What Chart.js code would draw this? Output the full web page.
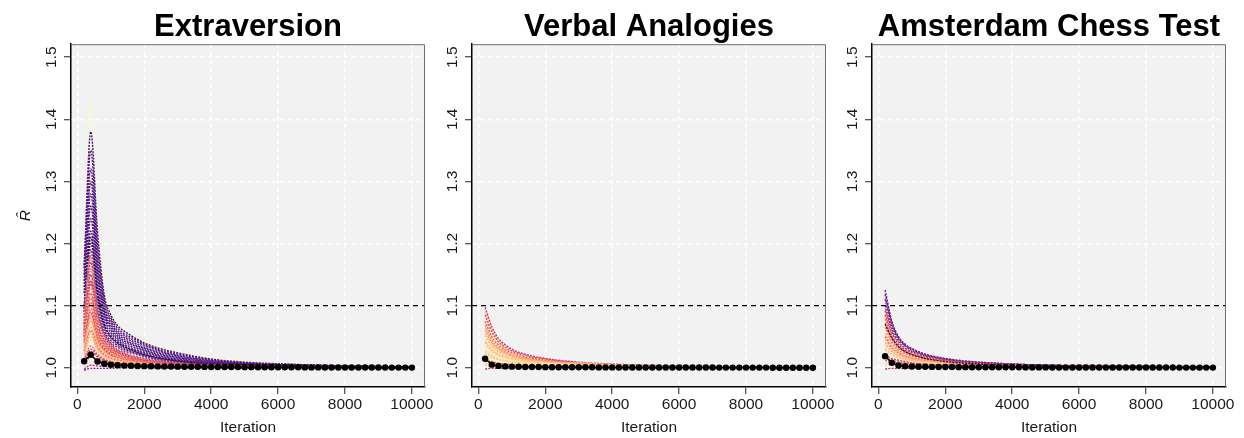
<!DOCTYPE html>
<html>
<head>
<meta charset="utf-8">
<script src="https://cdn.jsdelivr.net/npm/chart.js@4.4.1/dist/chart.umd.min.js"></script>
<style>
  html, body { margin: 0; padding: 0; background: #fff; overflow: hidden; }
  #wrap { position: relative; width: 1244px; height: 438px; overflow: hidden; }
  #wrap canvas { position: absolute; top: 0; }
</style>
</head>
<body>
<div id="wrap">
  <canvas id="p1" width="496" height="438" style="left:0px"></canvas>
  <canvas id="p2" width="496" height="438" style="left:401px"></canvas>
  <canvas id="p3" width="496" height="438" style="left:801px"></canvas>
</div>
<script>
// ---- data ----
const panelTitles = ['Extraversion', 'Verbal Analogies', 'Amsterdam Chess Test'];
const xTicks = [0, 2000, 4000, 6000, 8000, 10000];
const yTicks = [1.0, 1.1, 1.2, 1.3, 1.4, 1.5];
const cutoff = 1.1;

// iterations at which the per-parameter R-hat traces are sampled
const traceIters = [200, 400, 600, 800, 1000, 1200, 1400, 1600, 2000, 2400, 3000, 4000, 5000, 6000, 8000, 10000];
// iterations of the median trace (black dots)
const medianIters = [200, 400, 600, 800, 1000, 1200, 1400, 1600, 1800, 2000,
  2200, 2400, 2600, 2800, 3000, 3200, 3400, 3600, 3800, 4000,
  4200, 4400, 4600, 4800, 5000, 5200, 5400, 5600, 5800, 6000,
  6200, 6400, 6600, 6800, 7000, 7200, 7400, 7600, 7800, 8000,
  8200, 8400, 8600, 8800, 9000, 9200, 9400, 9600, 9800, 10000];

// Extraversion traces, bottom-most drawn first
const extraTraces = [
  [1.170, 1.430, 1.240, 1.125, 1.090, 1.072, 1.062, 1.055, 1.043, 1.035, 1.026, 1.017, 1.011, 1.007, 1.003, 1.001],
  [1.165, 1.380, 1.220, 1.118, 1.085, 1.068, 1.059, 1.052, 1.040, 1.032, 1.024, 1.014, 1.009, 1.0065, 1.003, 1.001],
  [1.160, 1.350, 1.200, 1.110, 1.080, 1.064, 1.055, 1.049, 1.038, 1.030, 1.022, 1.013, 1.008, 1.006, 1.003, 1.001],
  [1.150, 1.320, 1.185, 1.104, 1.076, 1.060, 1.052, 1.046, 1.036, 1.028, 1.020, 1.012, 1.008, 1.005, 1.002, 1.001],
  [1.140, 1.300, 1.170, 1.098, 1.072, 1.057, 1.049, 1.043, 1.033, 1.026, 1.019, 1.011, 1.007, 1.005, 1.002, 1.001],
  [1.130, 1.280, 1.160, 1.092, 1.068, 1.054, 1.046, 1.040, 1.031, 1.024, 1.017, 1.010, 1.006, 1.004, 1.002, 1.001],
  [1.120, 1.260, 1.150, 1.088, 1.064, 1.051, 1.043, 1.038, 1.029, 1.022, 1.016, 1.009, 1.006, 1.004, 1.002, 1.000],
  [1.100, 1.240, 1.140, 1.082, 1.060, 1.048, 1.040, 1.035, 1.027, 1.020, 1.014, 1.008, 1.005, 1.004, 1.002, 1.000],
  [1.090, 1.220, 1.130, 1.076, 1.056, 1.045, 1.037, 1.032, 1.025, 1.019, 1.013, 1.008, 1.005, 1.003, 1.001, 1.000],
  [1.080, 1.200, 1.120, 1.070, 1.052, 1.042, 1.035, 1.030, 1.023, 1.017, 1.012, 1.007, 1.004, 1.003, 1.001, 1.000],
  [1.070, 1.180, 1.110, 1.065, 1.048, 1.039, 1.032, 1.028, 1.021, 1.016, 1.011, 1.006, 1.004, 1.003, 1.001, 1.000],
  [1.060, 1.160, 1.100, 1.060, 1.044, 1.036, 1.030, 1.026, 1.019, 1.014, 1.010, 1.006, 1.004, 1.002, 1.001, 1.000],
  [1.050, 1.140, 1.090, 1.055, 1.040, 1.033, 1.027, 1.024, 1.018, 1.013, 1.009, 1.005, 1.003, 1.002, 1.001, 1.000],
  [1.095, 1.210, 1.120, 1.070, 1.050, 1.040, 1.034, 1.029, 1.021, 1.016, 1.011, 1.006, 1.004, 1.002, 1.001, 1.000],
  [1.090, 1.190, 1.090, 1.055, 1.038, 1.029, 1.024, 1.020, 1.015, 1.011, 1.008, 1.005, 1.003, 1.002, 1.001, 1.000],
  [1.085, 1.180, 1.085, 1.052, 1.036, 1.028, 1.023, 1.019, 1.014, 1.010, 1.007, 1.004, 1.003, 1.002, 1.001, 1.000],
  [1.080, 1.170, 1.080, 1.050, 1.035, 1.027, 1.022, 1.018, 1.013, 1.010, 1.007, 1.004, 1.003, 1.002, 1.001, 1.000],
  [1.075, 1.160, 1.076, 1.047, 1.033, 1.026, 1.021, 1.018, 1.013, 1.009, 1.006, 1.004, 1.002, 1.001, 1.001, 1.000],
  [1.070, 1.150, 1.072, 1.045, 1.032, 1.025, 1.020, 1.017, 1.012, 1.009, 1.006, 1.004, 1.002, 1.001, 1.001, 1.000],
  [1.065, 1.140, 1.069, 1.043, 1.030, 1.024, 1.019, 1.016, 1.011, 1.008, 1.006, 1.003, 1.002, 1.001, 1.000, 1.000],
  [1.060, 1.135, 1.066, 1.041, 1.029, 1.023, 1.018, 1.015, 1.011, 1.008, 1.006, 1.003, 1.002, 1.001, 1.000, 1.000],
  [1.058, 1.128, 1.063, 1.040, 1.028, 1.022, 1.018, 1.015, 1.010, 1.008, 1.005, 1.003, 1.002, 1.001, 1.000, 1.000],
  [1.055, 1.120, 1.060, 1.038, 1.027, 1.021, 1.017, 1.014, 1.010, 1.008, 1.005, 1.003, 1.002, 1.001, 1.000, 1.000],
  [1.052, 1.112, 1.058, 1.036, 1.026, 1.020, 1.016, 1.013, 1.009, 1.007, 1.005, 1.003, 1.002, 1.001, 1.000, 1.000],
  [1.050, 1.105, 1.055, 1.034, 1.025, 1.019, 1.015, 1.013, 1.009, 1.007, 1.005, 1.003, 1.002, 1.001, 1.000, 1.000],
  [1.048, 1.100, 1.052, 1.033, 1.023, 1.018, 1.015, 1.012, 1.008, 1.006, 1.004, 1.002, 1.001, 1.001, 1.000, 1.000],
  [1.045, 1.095, 1.050, 1.031, 1.022, 1.017, 1.014, 1.012, 1.008, 1.006, 1.004, 1.002, 1.001, 1.001, 1.000, 1.000],
  [1.042, 1.090, 1.047, 1.030, 1.021, 1.016, 1.013, 1.011, 1.008, 1.006, 1.004, 1.002, 1.001, 1.001, 1.000, 1.000],
  [1.040, 1.085, 1.045, 1.028, 1.020, 1.016, 1.013, 1.011, 1.008, 1.006, 1.004, 1.002, 1.001, 1.001, 1.000, 1.000],
  [1.038, 1.080, 1.043, 1.027, 1.019, 1.015, 1.012, 1.010, 1.007, 1.005, 1.003, 1.002, 1.001, 1.000, 1.000, 1.000],
  [1.035, 1.075, 1.040, 1.025, 1.018, 1.014, 1.012, 1.010, 1.007, 1.005, 1.003, 1.002, 1.001, 1.000, 1.000, 1.000],
  [1.032, 1.070, 1.038, 1.024, 1.017, 1.014, 1.011, 1.009, 1.006, 1.005, 1.003, 1.002, 1.001, 1.000, 1.000, 1.000],
  [1.030, 1.065, 1.036, 1.022, 1.016, 1.013, 1.010, 1.009, 1.006, 1.005, 1.003, 1.002, 1.001, 1.000, 1.000, 1.000],
  [1.027, 1.060, 1.033, 1.021, 1.015, 1.012, 1.010, 1.008, 1.006, 1.004, 1.003, 1.002, 1.001, 1.000, 1.000, 1.000],
  [1.025, 1.055, 1.031, 1.019, 1.014, 1.011, 1.009, 1.008, 1.006, 1.004, 1.003, 1.002, 1.001, 1.000, 1.000, 1.000],
  [1.022, 1.050, 1.029, 1.018, 1.013, 1.010, 1.009, 1.007, 1.005, 1.004, 1.002, 1.001, 1.001, 1.000, 1.000, 1.000],
  [1.020, 1.045, 1.027, 1.017, 1.012, 1.010, 1.008, 1.007, 1.005, 1.004, 1.002, 1.001, 1.001, 1.000, 1.000, 1.000],
  [1.015, 1.035, 1.022, 1.014, 1.010, 1.008, 1.007, 1.006, 1.004, 1.003, 1.002, 1.001, 1.001, 1.000, 1.000, 1.000],
  [1.012, 1.030, 1.019, 1.013, 1.009, 1.007, 1.006, 1.005, 1.004, 1.003, 1.002, 1.001, 1.000, 1.000, 1.000, 1.000],
  [1.010, 1.026, 1.017, 1.011, 1.008, 1.007, 1.006, 1.005, 1.004, 1.003, 1.002, 1.001, 1.000, 1.000, 1.000, 1.000],
  [1.005, 1.018, 1.012, 1.008, 1.006, 1.005, 1.004, 1.004, 1.003, 1.002, 1.001, 1.001, 1.000, 1.000, 1.000, 1.000],
  [1.002, 1.010, 1.007, 1.005, 1.004, 1.003, 1.003, 1.002, 1.002, 1.001, 1.001, 1.000, 1.000, 1.000, 1.000, 1.000],
  [0.998, 1.004, 1.003, 1.002, 1.002, 1.001, 1.001, 1.001, 1.001, 1.000, 1.000, 1.000, 1.000, 1.000, 1.000, 1.000],
  [0.996, 0.999, 0.999, 0.999, 0.999, 1.000, 1.000, 1.000, 1.000, 1.000, 1.000, 1.000, 1.000, 1.000, 1.000, 1.000],
];
const extraColors = [
  '#fcfdbf',
  '#4a1079', '#51127c', '#5a1785', '#4f127b', '#5c1a87', '#3b0f70',
  '#611b88', '#51127c', '#6a1d87', '#721f81', '#5a1785', '#7b2382',
  '#1c1044',
  '#9c2e7f', '#fc8961', '#b73779', '#fea973', '#c83e73', '#e55064',
  '#d6456c', '#feb77e', '#e55064', '#f7705c', '#ef5a5e', '#fecf92',
  '#f7705c', '#c83e73', '#fb8461', '#fd9668', '#fd9668', '#fde0a1',
  '#fea973', '#ef5a5e', '#febb81', '#febb81', '#fecf92', '#f1605d',
  '#d6456c', '#de4968', '#c03a76', '#fde0a1', '#b73779', '#8c2981',
];
const extraMedian = [1.0106, 1.0210, 1.0100, 1.0064, 1.0048, 1.0040, 1.0035, 1.0031, 1.0028, 1.0026,
  1.0024, 1.0022, 1.0020, 1.0019, 1.0018, 1.0017, 1.0016, 1.0015, 1.0014, 1.0013,
  1.0012, 1.0012, 1.0011, 1.0011, 1.0010, 1.0010, 1.0009, 1.0009, 1.0008, 1.0008,
  1.0007, 1.0007, 1.0007, 1.0006, 1.0006, 1.0006, 1.0005, 1.0005, 1.0005, 1.0004,
  1.0004, 1.0004, 1.0003, 1.0003, 1.0003, 1.0003, 1.0002, 1.0002, 1.0002, 1.0002];

// Verbal Analogies traces
const verbalTraces = [
  [1.090, 1.062, 1.044, 1.035, 1.028, 1.024, 1.021, 1.018, 1.014, 1.011, 1.008, 1.005, 1.003, 1.002, 1.001, 1.000],
  [1.080, 1.054, 1.040, 1.031, 1.025, 1.021, 1.018, 1.016, 1.013, 1.010, 1.008, 1.005, 1.003, 1.002, 1.001, 1.000],
  [1.072, 1.048, 1.035, 1.028, 1.023, 1.019, 1.016, 1.014, 1.011, 1.009, 1.007, 1.004, 1.003, 1.002, 1.001, 1.000],
  [1.064, 1.042, 1.031, 1.025, 1.020, 1.017, 1.015, 1.013, 1.010, 1.008, 1.006, 1.004, 1.003, 1.002, 1.001, 1.000],
  [1.056, 1.037, 1.028, 1.022, 1.018, 1.015, 1.013, 1.011, 1.009, 1.007, 1.006, 1.004, 1.002, 1.001, 1.001, 1.000],
  [1.048, 1.032, 1.024, 1.019, 1.016, 1.013, 1.011, 1.010, 1.008, 1.007, 1.005, 1.003, 1.002, 1.001, 1.000, 1.000],
  [1.041, 1.028, 1.021, 1.017, 1.014, 1.012, 1.010, 1.009, 1.007, 1.006, 1.004, 1.003, 1.002, 1.001, 1.000, 1.000],
  [1.034, 1.023, 1.018, 1.014, 1.012, 1.010, 1.009, 1.008, 1.006, 1.005, 1.004, 1.003, 1.002, 1.001, 1.000, 1.000],
  [1.027, 1.019, 1.015, 1.012, 1.010, 1.009, 1.008, 1.007, 1.005, 1.004, 1.003, 1.002, 1.001, 1.001, 1.000, 1.000],
  [1.021, 1.015, 1.012, 1.010, 1.008, 1.007, 1.006, 1.005, 1.004, 1.004, 1.003, 1.002, 1.001, 1.000, 1.000, 1.000],
  [1.015, 1.011, 1.009, 1.007, 1.006, 1.005, 1.005, 1.004, 1.003, 1.003, 1.002, 1.001, 1.001, 1.000, 1.000, 1.000],
  [1.009, 1.007, 1.006, 1.005, 1.004, 1.003, 1.003, 1.003, 1.002, 1.002, 1.001, 1.001, 1.000, 1.000, 1.000, 1.000],
  [1.003, 1.002, 1.002, 1.002, 1.001, 1.001, 1.001, 1.001, 1.001, 1.001, 1.000, 1.000, 1.000, 1.000, 1.000, 1.000],
  [1.097, 1.066, 1.047, 1.037, 1.030, 1.025, 1.022, 1.019, 1.015, 1.012, 1.009, 1.006, 1.004, 1.003, 1.001, 1.001],
  [1.085, 1.058, 1.042, 1.033, 1.027, 1.023, 1.020, 1.017, 1.014, 1.011, 1.008, 1.005, 1.003, 1.002, 1.001, 1.000],
  [1.075, 1.050, 1.037, 1.029, 1.024, 1.020, 1.017, 1.015, 1.012, 1.010, 1.007, 1.005, 1.003, 1.002, 1.001, 1.000],
  [1.068, 1.045, 1.033, 1.026, 1.021, 1.018, 1.015, 1.013, 1.011, 1.009, 1.007, 1.004, 1.003, 1.002, 1.001, 1.000],
  [1.060, 1.040, 1.030, 1.024, 1.019, 1.016, 1.014, 1.012, 1.010, 1.008, 1.006, 1.004, 1.003, 1.002, 1.001, 1.000],
  [1.052, 1.035, 1.026, 1.021, 1.017, 1.014, 1.012, 1.011, 1.009, 1.007, 1.006, 1.004, 1.003, 1.002, 1.001, 1.000],
  [1.045, 1.030, 1.023, 1.018, 1.015, 1.012, 1.011, 1.010, 1.008, 1.007, 1.008, 1.005, 1.003, 1.002, 1.001, 1.000],
  [1.038, 1.026, 1.020, 1.016, 1.013, 1.011, 1.009, 1.008, 1.007, 1.006, 1.004, 1.003, 1.002, 1.001, 1.001, 1.000],
  [1.030, 1.021, 1.016, 1.013, 1.011, 1.009, 1.008, 1.007, 1.006, 1.005, 1.004, 1.003, 1.002, 1.001, 1.000, 1.000],
  [1.024, 1.017, 1.013, 1.011, 1.009, 1.008, 1.007, 1.006, 1.005, 1.004, 1.003, 1.002, 1.001, 1.001, 1.000, 1.000],
  [1.018, 1.013, 1.010, 1.008, 1.007, 1.006, 1.005, 1.005, 1.004, 1.003, 1.002, 1.002, 1.001, 1.000, 1.000, 1.000],
  [1.012, 1.009, 1.007, 1.006, 1.005, 1.004, 1.004, 1.003, 1.003, 1.002, 1.002, 1.001, 1.001, 1.000, 1.000, 1.000],
  [1.006, 1.005, 1.004, 1.003, 1.003, 1.002, 1.002, 1.002, 1.001, 1.001, 1.001, 1.000, 1.000, 1.000, 1.000, 1.000],
  [0.998, 0.999, 0.999, 0.999, 1.000, 1.000, 1.000, 1.000, 1.000, 1.000, 1.000, 1.000, 1.000, 1.000, 1.000, 1.000],
];
const verbalColors = [
  '#fec287', '#fde0a1', '#fcf0b0', '#feb77e', '#fecb8f', '#fcfdbf', '#fea16e',
  '#fde0a1', '#fec287', '#fcf0b0', '#feb77e', '#fde0a1', '#fecf92',
  '#c03a76', '#de4968', '#f1605d', '#fc8961', '#fea16e', '#feb77e', '#fecb8f',
  '#fde0a1', '#fcf0b0', '#fec287', '#fcfdbf', '#e55064', '#fec287', '#b73779',
];
const verbalMedian = [1.0145, 1.0050, 1.0030, 1.0022, 1.0018, 1.0015, 1.0013, 1.0012, 1.0011, 1.0010,
  1.0009, 1.0009, 1.0008, 1.0008, 1.0007, 1.0007, 1.0007, 1.0006, 1.0006, 1.0006,
  1.0005, 1.0005, 1.0005, 1.0005, 1.0004, 1.0004, 1.0004, 1.0004, 1.0004, 1.0003,
  1.0003, 1.0003, 1.0003, 1.0003, 1.0003, 1.0002, 1.0002, 1.0002, 1.0002, 1.0002,
  1.0002, 1.0002, 1.0002, 1.0001, 1.0001, 1.0001, 1.0001, 1.0001, 1.0001, 1.0001];

// Amsterdam Chess Test traces
const chessTraces = [
  [1.095, 1.060, 1.040, 1.030, 1.025, 1.021, 1.018, 1.016, 1.012, 1.010, 1.007, 1.005, 1.003, 1.002, 1.001, 1.000],
  [1.082, 1.050, 1.034, 1.026, 1.021, 1.018, 1.015, 1.013, 1.010, 1.008, 1.006, 1.004, 1.003, 1.002, 1.001, 1.000],
  [1.072, 1.044, 1.030, 1.024, 1.019, 1.016, 1.014, 1.012, 1.009, 1.007, 1.006, 1.004, 1.002, 1.001, 1.001, 1.000],
  [1.060, 1.038, 1.027, 1.021, 1.017, 1.014, 1.012, 1.011, 1.008, 1.007, 1.005, 1.003, 1.002, 1.001, 1.001, 1.000],
  [1.050, 1.032, 1.024, 1.018, 1.015, 1.013, 1.011, 1.010, 1.007, 1.006, 1.005, 1.003, 1.002, 1.001, 1.000, 1.000],
  [1.040, 1.027, 1.020, 1.016, 1.013, 1.011, 1.010, 1.009, 1.007, 1.005, 1.004, 1.003, 1.002, 1.001, 1.000, 1.000],
  [1.030, 1.022, 1.017, 1.013, 1.011, 1.010, 1.008, 1.007, 1.006, 1.005, 1.004, 1.002, 1.002, 1.001, 1.000, 1.000],
  [1.009, 1.007, 1.006, 1.005, 1.004, 1.004, 1.003, 1.003, 1.002, 1.002, 1.002, 1.001, 1.001, 1.001, 1.000, 1.000],
  [1.125, 1.075, 1.050, 1.038, 1.031, 1.026, 1.022, 1.019, 1.015, 1.012, 1.009, 1.006, 1.004, 1.003, 1.002, 1.001],
  [1.118, 1.072, 1.048, 1.036, 1.030, 1.025, 1.021, 1.018, 1.014, 1.011, 1.009, 1.006, 1.004, 1.003, 1.002, 1.001],
  [1.110, 1.068, 1.046, 1.035, 1.028, 1.024, 1.020, 1.018, 1.014, 1.011, 1.008, 1.006, 1.004, 1.003, 1.002, 1.001],
  [1.100, 1.062, 1.042, 1.032, 1.026, 1.022, 1.019, 1.016, 1.013, 1.010, 1.008, 1.005, 1.004, 1.003, 1.002, 1.001],
  [1.092, 1.057, 1.038, 1.029, 1.024, 1.020, 1.017, 1.015, 1.012, 1.009, 1.007, 1.005, 1.003, 1.002, 1.001, 1.000],
  [1.085, 1.052, 1.035, 1.027, 1.022, 1.018, 1.016, 1.014, 1.011, 1.009, 1.007, 1.004, 1.003, 1.002, 1.001, 1.000],
  [1.078, 1.047, 1.032, 1.025, 1.020, 1.017, 1.014, 1.013, 1.010, 1.008, 1.006, 1.004, 1.003, 1.002, 1.001, 1.000],
  [1.065, 1.040, 1.028, 1.022, 1.018, 1.015, 1.013, 1.011, 1.009, 1.007, 1.005, 1.004, 1.003, 1.002, 1.001, 1.000],
  [1.055, 1.035, 1.025, 1.019, 1.016, 1.013, 1.011, 1.010, 1.008, 1.006, 1.005, 1.003, 1.002, 1.001, 1.001, 1.000],
  [1.045, 1.030, 1.022, 1.017, 1.014, 1.012, 1.010, 1.009, 1.007, 1.006, 1.004, 1.003, 1.002, 1.001, 1.001, 1.000],
  [1.035, 1.025, 1.019, 1.015, 1.012, 1.010, 1.009, 1.008, 1.006, 1.005, 1.004, 1.003, 1.002, 1.001, 1.000, 1.000],
  [1.027, 1.020, 1.015, 1.012, 1.010, 1.009, 1.008, 1.007, 1.005, 1.004, 1.003, 1.002, 1.001, 1.001, 1.000, 1.000],
  [1.020, 1.015, 1.012, 1.010, 1.008, 1.007, 1.006, 1.005, 1.004, 1.004, 1.003, 1.002, 1.002, 1.003, 1.001, 1.000],
  [1.016, 1.012, 1.010, 1.008, 1.007, 1.006, 1.005, 1.004, 1.004, 1.003, 1.003, 1.002, 1.003, 1.004, 1.002, 1.001],
  [1.012, 1.010, 1.008, 1.007, 1.006, 1.005, 1.004, 1.004, 1.003, 1.003, 1.002, 1.002, 1.002, 1.003, 1.002, 1.001],
  [1.005, 1.004, 1.003, 1.003, 1.002, 1.002, 1.002, 1.002, 1.001, 1.001, 1.001, 1.001, 1.000, 1.000, 1.000, 1.000],
  [1.070, 1.048, 1.034, 1.026, 1.021, 1.018, 1.015, 1.013, 1.010, 1.008, 1.006, 1.004, 1.003, 1.002, 1.001, 1.000],
  [0.998, 0.999, 0.999, 0.999, 1.000, 1.000, 1.000, 1.000, 1.000, 1.000, 1.000, 1.000, 1.000, 1.000, 1.000, 1.000],
];
const chessColors = [
  '#fec287', '#fecf92', '#fd9668', '#fde0a1', '#ef5a5e', '#fea973', '#feb77e', '#fecb8f',
  '#5c1a87', '#6a1d87', '#7a2183', '#9a2d80', '#c03a76', '#e55064', '#f8765c', '#fc8961',
  '#fea16e', '#feb77e', '#fecb8f', '#fde0a1', '#d6456c', '#f1605d', '#f1605d', '#fec287',
  '#1c1044', '#b73779',
];
const chessMedian = [1.0187, 1.0080, 1.0037, 1.0025, 1.0020, 1.0017, 1.0015, 1.0014, 1.0013, 1.0012,
  1.0011, 1.0010, 1.0010, 1.0009, 1.0009, 1.0008, 1.0008, 1.0008, 1.0007, 1.0007,
  1.0007, 1.0006, 1.0006, 1.0006, 1.0006, 1.0005, 1.0005, 1.0005, 1.0005, 1.0005,
  1.0004, 1.0004, 1.0004, 1.0004, 1.0004, 1.0004, 1.0003, 1.0003, 1.0003, 1.0003,
  1.0003, 1.0003, 1.0003, 1.0003, 1.0002, 1.0002, 1.0002, 1.0002, 1.0002, 1.0002];

// axis limits (R-style 4% extension around the data)
const X_MIN = -192, X_MAX = 10392;
const Y_MIN = 0.969, Y_MAX = 1.521;

const FONT = '"Liberation Sans", Helvetica, Arial, sans-serif';

const panelBackground = {
  id: 'panelBackground',
  beforeDraw(chart) {
    const { ctx, chartArea: a } = chart;
    ctx.save();
    ctx.fillStyle = '#f2f2f2';
    ctx.fillRect(a.left, a.top, a.width, a.height);
    ctx.restore();
  },
  afterDraw(chart) {
    const { ctx, chartArea: a } = chart;
    ctx.save();
    ctx.strokeStyle = '#6e6e6e';
    ctx.lineWidth = 1;
    ctx.beginPath();
    ctx.moveTo(a.left, a.top + 0.5);
    ctx.lineTo(a.right - 0.5, a.top + 0.5);
    ctx.lineTo(a.right - 0.5, a.bottom);
    ctx.stroke();
    ctx.restore();
  },
};

function toPoints(xs, ys) {
  return xs.map((x, i) => ({ x, y: ys[i] }));
}

function makePanel(canvasId, title, traces, colors, median, showYTitle) {
  const traceSets = traces.map((vals, i) => ({
    data: toPoints(traceIters, vals),
    borderColor: colors[i],
    borderWidth: 1.4,
    borderDash: [2, 1.2],
    pointRadius: 0,
    fill: false,
    cubicInterpolationMode: 'monotone',
  }));

  // first dataset is drawn on top
  const datasets = [
    {
      data: toPoints(medianIters, median),
      borderColor: '#000',
      backgroundColor: '#000',
      borderWidth: 1.5,
      pointRadius: 3.2,
      pointBorderWidth: 0,
      fill: false,
    },
    {
      data: [{ x: X_MIN, y: cutoff }, { x: X_MAX, y: cutoff }],
      borderColor: '#000',
      borderWidth: 1.3,
      borderDash: [5, 4],
      pointRadius: 0,
      fill: false,
    },
    ...traceSets.reverse(),
  ];

  return new Chart(document.getElementById(canvasId), {
    type: 'line',
    data: { datasets },
    options: {
      responsive: false,
      animation: false,
      events: [],
      layout: { padding: { left: 0, right: 71, top: 0, bottom: 0 } },
      plugins: {
        legend: { display: false },
        tooltip: { enabled: false },
        title: {
          display: true,
          fullSize: false,
          text: title,
          color: '#000',
          font: { family: FONT, size: 31, weight: 'bold', lineHeight: 1.2 },
          padding: { top: 9, bottom: -2 },
        },
      },
      scales: {
        x: {
          type: 'linear',
          min: X_MIN,
          max: X_MAX,
          afterBuildTicks: (axis) => { axis.ticks = xTicks.map(v => ({ value: v })); },
          afterFit: (axis) => { axis.height = 51; },
          ticks: {
            color: '#1a1a1a', font: { family: FONT, size: 15.5 }, padding: 1,
            maxRotation: 0, autoSkip: false, callback: (v) => String(v),
          },
          grid: { color: '#ffffff', lineWidth: 1.5, tickLength: 7, tickColor: '#222', tickWidth: 1, tickBorderDash: [] },
          border: { color: '#000', width: 1.5, dash: [4, 4] },
          title: {
            display: true, text: 'Iteration', color: '#1a1a1a',
            font: { family: FONT, size: 15.5, lineHeight: 1.2 },
            padding: { top: 0, bottom: 1 },
          },
        },
        y: {
          type: 'linear',
          min: Y_MIN,
          max: Y_MAX,
          afterBuildTicks: (axis) => { axis.ticks = yTicks.map(v => ({ value: v })); },
          afterFit: (axis) => { axis.width = 71; },
          ticks: {
            color: '#1a1a1a', font: { family: FONT, size: 15.5 }, padding: 2,
            minRotation: 90, maxRotation: 90, crossAlign: 'center', autoSkip: false,
            callback: (v) => v.toFixed(1),
          },
          grid: { color: '#ffffff', lineWidth: 1.5, tickLength: 7, tickColor: '#222', tickWidth: 1, tickBorderDash: [] },
          border: { color: '#000', width: 1.5, dash: [4, 4] },
          title: {
            display: showYTitle, text: 'R\u0302', color: '#1a1a1a',
            font: { family: FONT, size: 15.5, style: 'italic', lineHeight: 1.2 },
            padding: { top: 16, bottom: 0 },
          },
        },
      },
    },
    plugins: [panelBackground],
  });
}

makePanel('p1', panelTitles[0], extraTraces, extraColors, extraMedian, true);
makePanel('p2', panelTitles[1], verbalTraces, verbalColors, verbalMedian, false);
makePanel('p3', panelTitles[2], chessTraces, chessColors, chessMedian, false);
</script>
</body>
</html>
